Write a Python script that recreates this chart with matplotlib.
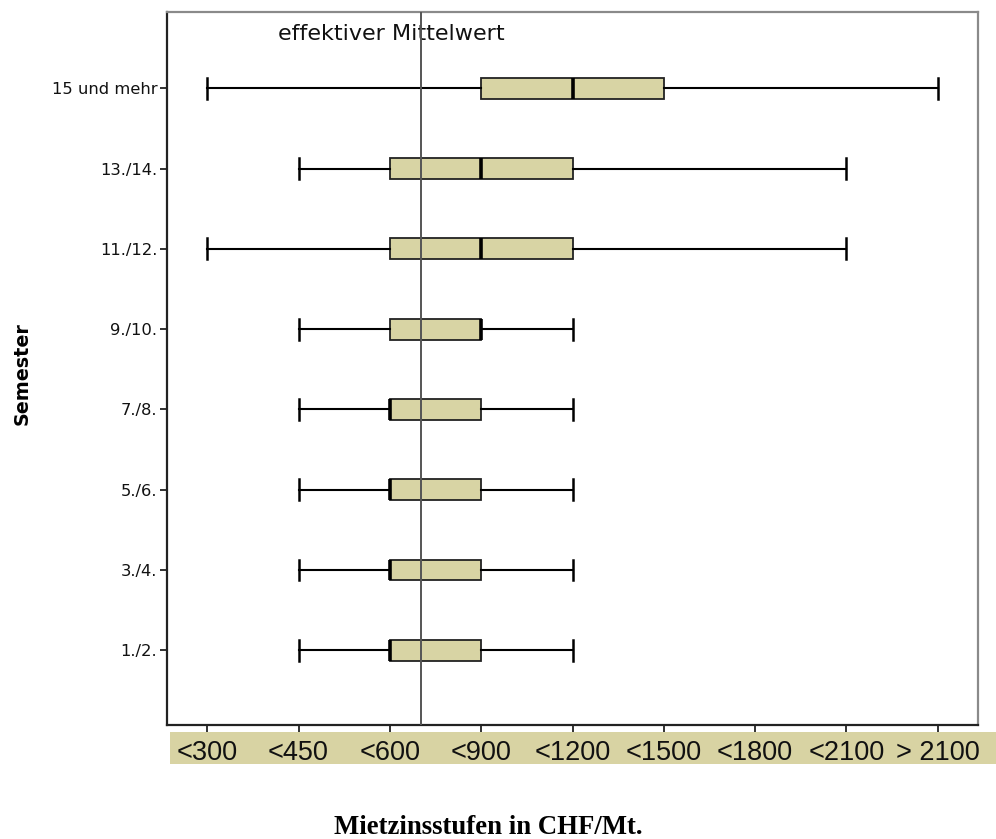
import matplotlib
matplotlib.use("Agg")
import matplotlib.pyplot as plt
from matplotlib.patches import Rectangle

# Rent levels (ordinal classes on the x axis)
rent_levels = ["<300", "<450", "<600", "<900", "<1200", "<1500", "<1800", "<2100", "> 2100"]

# Semester groups, bottom to top
semesters = ["1./2.", "3./4.", "5./6.", "7./8.", "9./10.", "11./12.", "13./14.", "15 und mehr"]

# Box statistics given as rent-level index (1 = "<300", 9 = "> 2100")
whisker_low = [2, 2, 2, 2, 2, 1, 2, 1]
quartile_1 = [3, 3, 3, 3, 3, 3, 3, 4]
medians = [3, 3, 3, 3, 4, 4, 4, 5]
quartile_3 = [4, 4, 4, 4, 4, 5, 5, 6]
whisker_high = [5, 5, 5, 5, 5, 8, 8, 9]

# Overall effective mean rent on the same index scale
effective_mean = 3.34

BOX_COLOR = "#D8D4A4"

fig = plt.figure(figsize=(9.96, 8.39), dpi=100)
ax = fig.add_axes([167 / 996, 1 - 725 / 839, 811 / 996, 713 / 839])

stats = []
for lo, q1, med, q3, hi in zip(whisker_low, quartile_1, medians, quartile_3, whisker_high):
    stats.append(dict(whislo=lo, q1=q1, med=med, q3=q3, whishi=hi, fliers=[]))

positions = list(range(1, len(semesters) + 1))
ax.bxp(
    stats,
    positions=positions,
    orientation="horizontal",
    widths=0.26,
    capwidths=0.26,
    showfliers=False,
    patch_artist=True,
    boxprops=dict(facecolor=BOX_COLOR, edgecolor="#222222", linewidth=1.3),
    medianprops=dict(color="black", linewidth=2.6, solid_capstyle="butt"),
    whiskerprops=dict(color="black", linewidth=1.5),
    capprops=dict(color="black", linewidth=1.8),
)

# Effective mean line
ax.axvline(effective_mean, color="#555555", linewidth=1.4, zorder=5)
ax.text(3.02, 8.68, "effektiver Mittelwert", ha="center", va="center",
        fontsize=16, family="DejaVu Sans", color="#111111")

ax.set_xlim(0.56, 9.44)
ax.set_ylim(0.07, 8.95)

ax.set_xticks(range(1, len(rent_levels) + 1))
ax.set_xticklabels(rent_levels, fontsize=19.5, family="Liberation Sans")
ax.set_yticks(positions)
ax.set_yticklabels(semesters, fontsize=11.8, family="DejaVu Sans")

ax.tick_params(axis="x", direction="out", length=5, width=1.3, pad=6, colors="#222222")
ax.tick_params(axis="y", direction="out", length=5, width=1.3, pad=2, colors="#222222")
for lab in ax.get_xticklabels() + ax.get_yticklabels():
    lab.set_color("#111111")

for side in ("left", "bottom"):
    ax.spines[side].set_color("#222222")
    ax.spines[side].set_linewidth(1.6)
for side in ("top", "right"):
    ax.spines[side].set_color("#8a8a8a")
    ax.spines[side].set_linewidth(1.6)

ax.set_ylabel("Semester", fontsize=13.8, fontweight="bold", family="DejaVu Sans")
ax.yaxis.set_label_coords(-(167 - 32) / 811, 0.5 + (713 / 2 - (374 - 12)) / 713)

# Shaded band behind the rent-level labels
band = Rectangle((170 / 996, 1 - 764 / 839), (996 - 170) / 996, 32 / 839,
                 transform=fig.transFigure, facecolor="#D8D3A3", edgecolor="none", zorder=-1)
fig.patches.append(band)

fig.text(488 / 996, 1 - 827 / 839, "Mietzinsstufen in CHF/Mt.", ha="center", va="center",
         fontsize=19.3, fontweight="bold", family="Liberation Serif")

fig.savefig("out.png", dpi=100)
